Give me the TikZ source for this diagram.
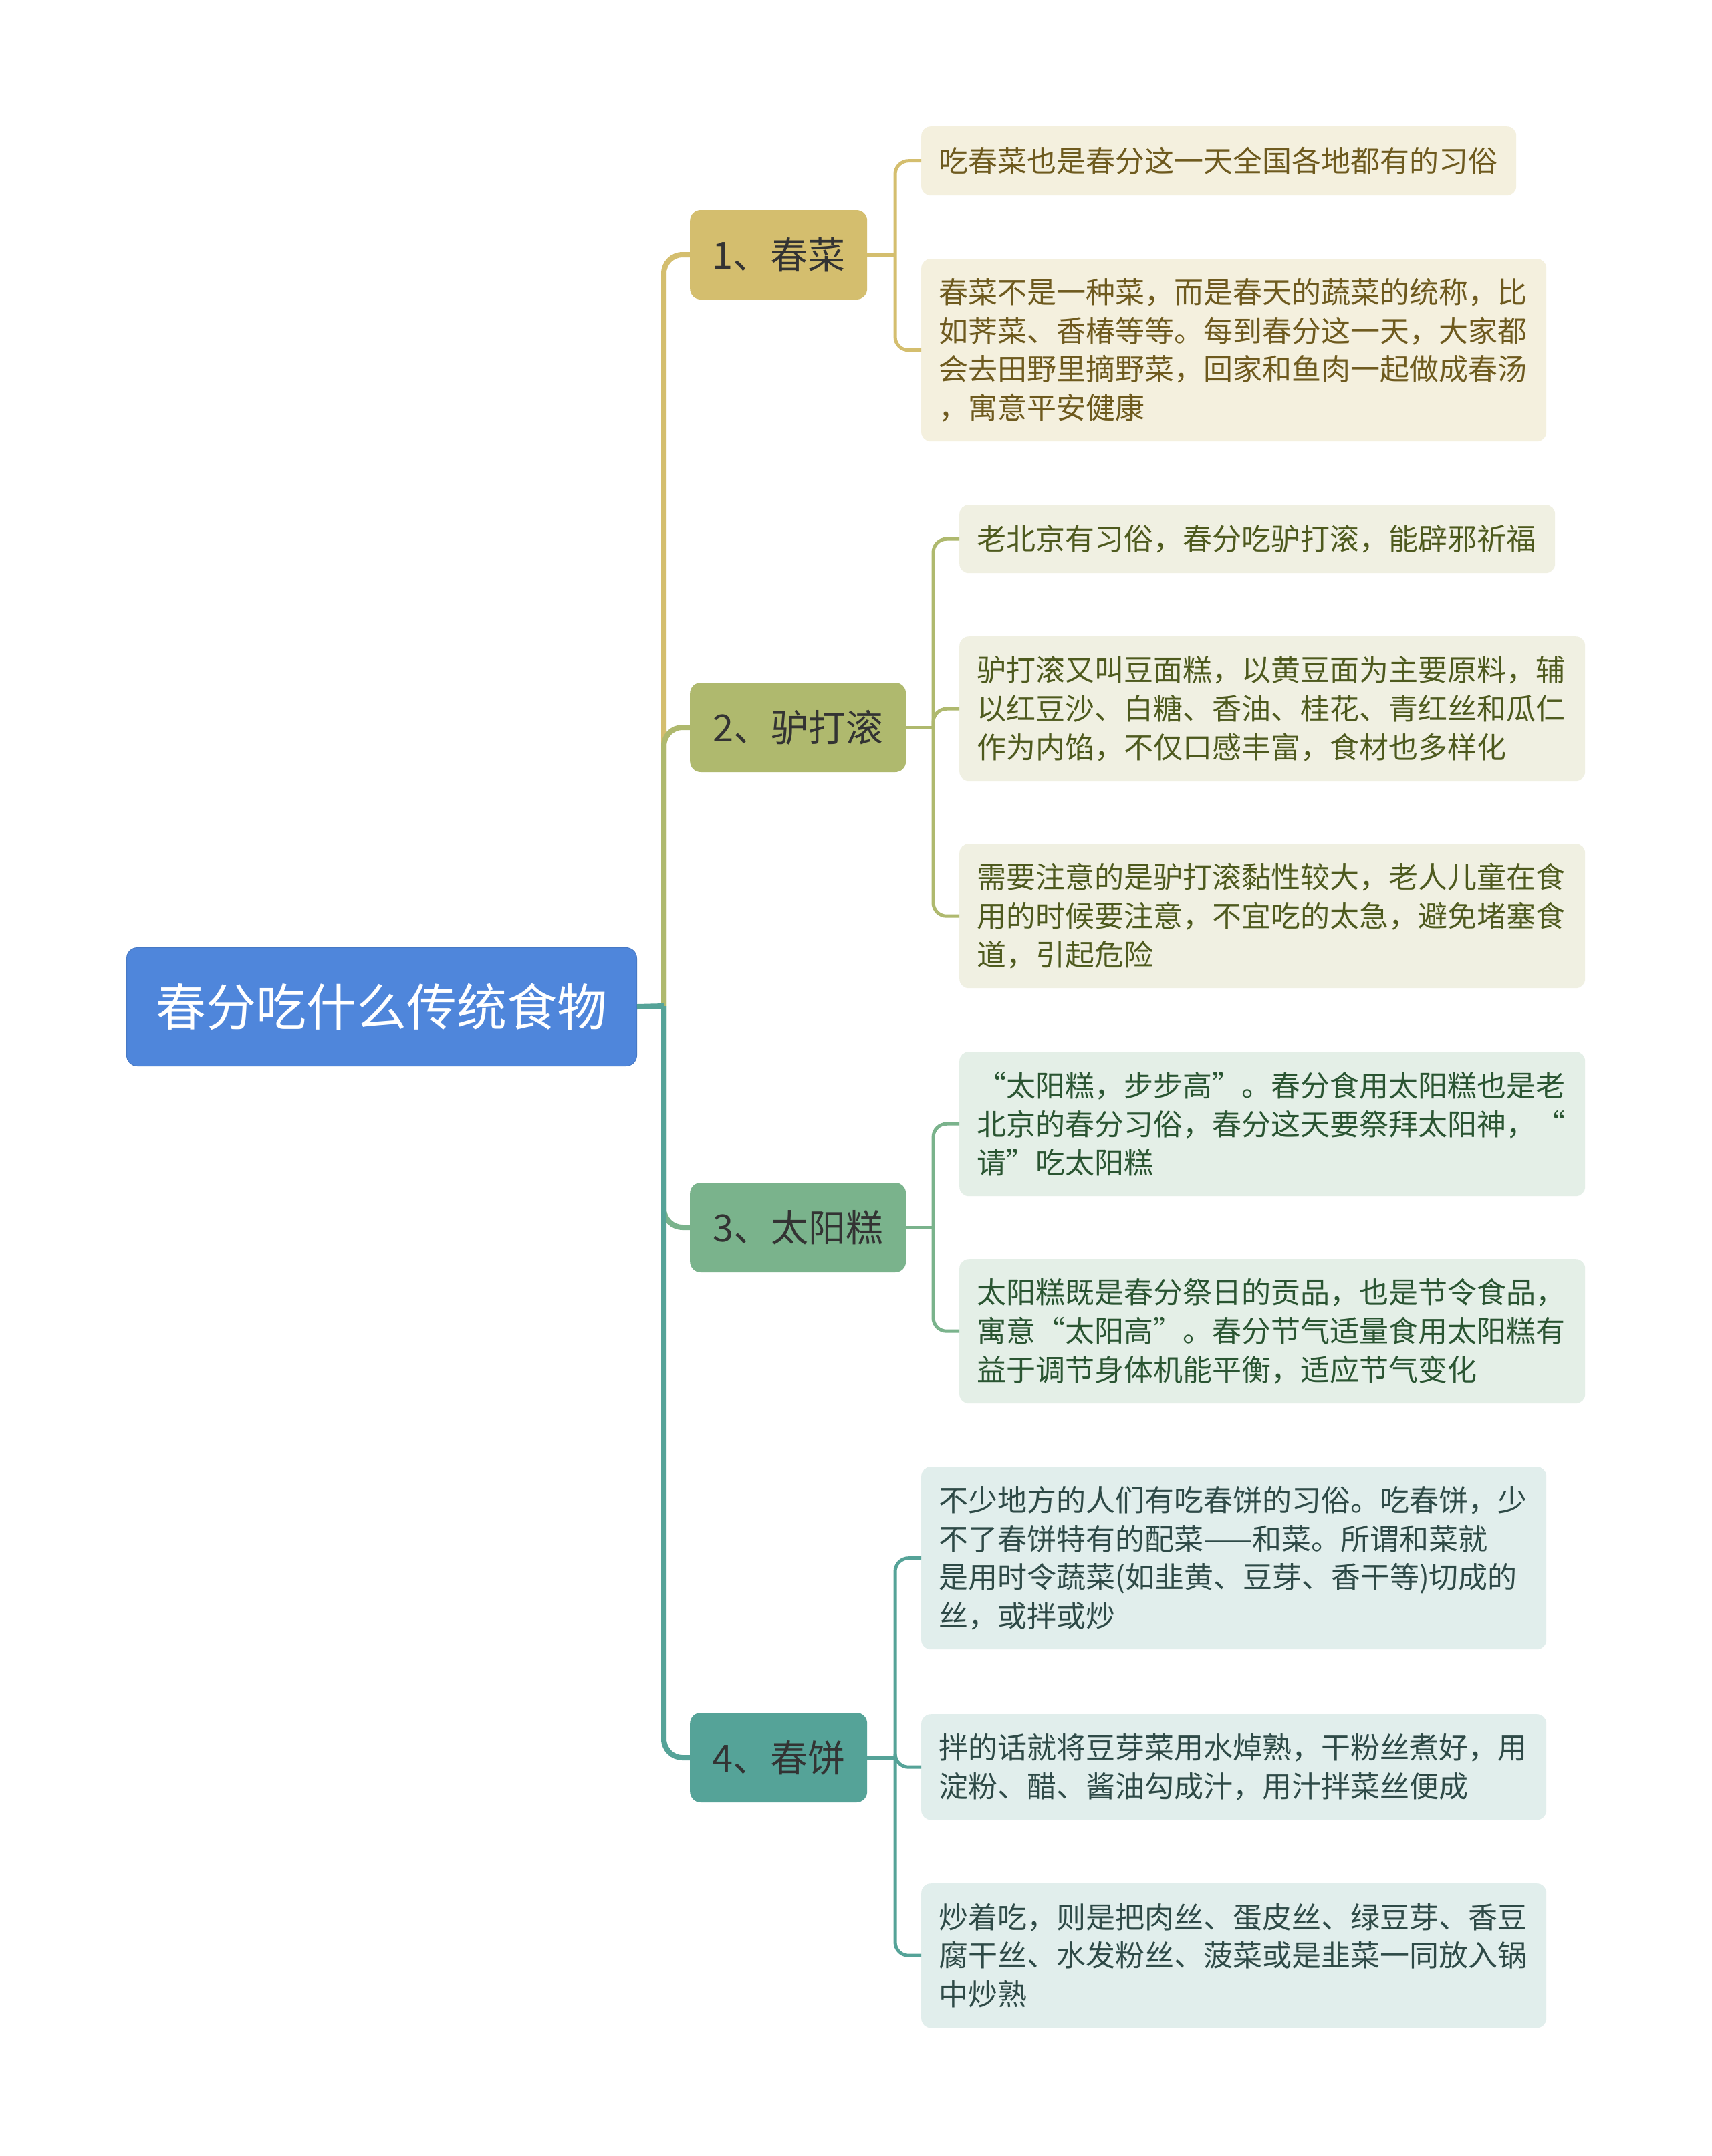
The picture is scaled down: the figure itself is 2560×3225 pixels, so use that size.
\documentclass[tikz,border=0pt]{standalone}
\usepackage{fontspec}
\setmainfont{Noto Sans CJK SC}
\definecolor{rootblue}{HTML}{4F86DB}
\definecolor{cgold}{HTML}{D4BE6E}
\definecolor{colive}{HTML}{AFB96E}
\definecolor{cgreen}{HTML}{7AB38C}
\definecolor{cteal}{HTML}{55A398}
\definecolor{fgold}{HTML}{F4F0DE}
\definecolor{folive}{HTML}{F0F0E2}
\definecolor{fgreen}{HTML}{E4EFE7}
\definecolor{fteal}{HTML}{E1EEEC}
\definecolor{tgold}{HTML}{6E5A1E}
\definecolor{tolive}{HTML}{4E5A1E}
\definecolor{tgreen}{HTML}{2A5532}
\definecolor{tteal}{HTML}{2E4A47}
\definecolor{darktext}{HTML}{333333}
\begin{document}
\begin{tikzpicture}[x=1pt,y=1pt,
  rootbox/.style={fill=rootblue, draw=rootblue!90!black, line width=1pt, rounded corners=16pt, text=white,
    font=\fontsize{75}{90}\selectfont, minimum width=763pt, minimum height=177pt, inner sep=0pt, anchor=north west},
  branchbox/.style={rounded corners=16pt, text=darktext, font=\fontsize{56}{67}\selectfont,
    minimum height=134pt, inner sep=0pt, anchor=west},
  leafbox/.style={rounded corners=14pt, anchor=north west, align=left, inner xsep=26pt, inner ysep=0pt,
    font=\fontsize{44}{57.6}\selectfont},
  trunk/.style={line width=8pt, rounded corners=28pt},
  twig/.style={line width=5pt, rounded corners=20pt}
]
\useasboundingbox[fill=white] (0,0) rectangle (2560,-3225);

% root
\node[rootbox] (root) at (189,-1417) {春分吃什么传统食物};

% branches
\node[branchbox, fill=cgold, minimum width=265pt] (b1) at (1032,-381) {1、春菜};
\node[branchbox, fill=colive, minimum width=323pt] (b2) at (1032,-1088) {2、驴打滚};
\node[branchbox, fill=cgreen, minimum width=323pt] (b3) at (1032,-1836) {3、太阳糕};
\node[branchbox, fill=cteal, minimum width=265pt] (b4) at (1032,-2629) {4、春饼};

% leaves branch 1
\node[leafbox, fill=fgold, text=tgold, text width=838pt, minimum height=103pt] (l1a) at (1378,-189)
  {吃春菜也是春分这一天全国各地都有的习俗};
\node[leafbox, fill=fgold, text=tgold, text width=883pt, minimum height=273pt] (l1b) at (1378,-387)
  {春菜不是一种菜，而是春天的蔬菜的统称，比\\如荠菜、香椿等等。每到春分这一天，大家都\\会去田野里摘野菜，回家和鱼肉一起做成春汤\\，寓意平安健康};

% leaves branch 2
\node[leafbox, fill=folive, text=tolive, text width=839pt, minimum height=102pt] (l2a) at (1435,-755)
  {老北京有习俗，春分吃驴打滚，能辟邪祈福};
\node[leafbox, fill=folive, text=tolive, text width=884pt, minimum height=216pt] (l2b) at (1435,-952)
  {驴打滚又叫豆面糕，以黄豆面为主要原料，辅\\以红豆沙、白糖、香油、桂花、青红丝和瓜仁\\作为内馅，不仅口感丰富，食材也多样化};
\node[leafbox, fill=folive, text=tolive, text width=884pt, minimum height=216pt] (l2c) at (1435,-1262)
  {需要注意的是驴打滚黏性较大，老人儿童在食\\用的时候要注意，不宜吃的太急，避免堵塞食\\道，引起危险};

% leaves branch 3
\node[leafbox, fill=fgreen, text=tgreen, text width=884pt, minimum height=216pt] (l3a) at (1435,-1573)
  {“太阳糕，步步高”。春分食用太阳糕也是老\\北京的春分习俗，春分这天要祭拜太阳神，“\\请”吃太阳糕};
\node[leafbox, fill=fgreen, text=tgreen, text width=884pt, minimum height=216pt] (l3b) at (1435,-1883)
  {太阳糕既是春分祭日的贡品，也是节令食品，\\寓意“太阳高”。春分节气适量食用太阳糕有\\益于调节身体机能平衡，适应节气变化};

% leaves branch 4
\node[leafbox, fill=fteal, text=tteal, text width=883pt, minimum height=273pt] (l4a) at (1378,-2194)
  {不少地方的人们有吃春饼的习俗。吃春饼，少\\不了春饼特有的配菜——和菜。所谓和菜就\\是用时令蔬菜(如韭黄、豆芽、香干等)切成的\\丝，或拌或炒};
\node[leafbox, fill=fteal, text=tteal, text width=883pt, minimum height=158pt] (l4b) at (1378,-2564)
  {拌的话就将豆芽菜用水焯熟，干粉丝煮好，用\\淀粉、醋、酱油勾成汁，用汁拌菜丝便成};
\node[leafbox, fill=fteal, text=tteal, text width=883pt, minimum height=216pt] (l4c) at (1378,-2817)
  {炒着吃，则是把肉丝、蛋皮丝、绿豆芽、香豆\\腐干丝、水发粉丝、菠菜或是韭菜一同放入锅\\中炒熟};

% junction coordinates
\coordinate (J) at (993,-1505);
\coordinate (K1) at (1339,-381);
\coordinate (K2) at (1396,-1088);
\coordinate (K3) at (1396,-1836);
\coordinate (K4) at (1339,-2629);

% root to branches
\draw[trunk, cgold] (J) |- (b1.west);
\draw[trunk, colive] (J) |- (b2.west);
\draw[trunk, cgreen] (J) |- (b3.west);
\draw[trunk, cteal] (J) |- (b4.west);
\draw[line width=8pt, cteal] (root.east) -- (J);

% branch 1 to leaves
\draw[line width=5pt, cgold] (b1.east) -- (K1);
\draw[twig, cgold] (K1) |- (l1a.west);
\draw[twig, cgold] (K1) |- (l1b.west);
% branch 2
\draw[line width=5pt, colive] (b2.east) -- (K2);
\draw[twig, colive] (K2) |- (l2a.west);
\draw[twig, colive] (K2) |- (l2b.west);
\draw[twig, colive] (K2) |- (l2c.west);
% branch 3
\draw[line width=5pt, cgreen] (b3.east) -- (K3);
\draw[twig, cgreen] (K3) |- (l3a.west);
\draw[twig, cgreen] (K3) |- (l3b.west);
% branch 4
\draw[line width=5pt, cteal] (b4.east) -- (K4);
\draw[twig, cteal] (K4) |- (l4a.west);
\draw[twig, cteal] (K4) |- (l4b.west);
\draw[twig, cteal] (K4) |- (l4c.west);
\end{tikzpicture}
\end{document}
